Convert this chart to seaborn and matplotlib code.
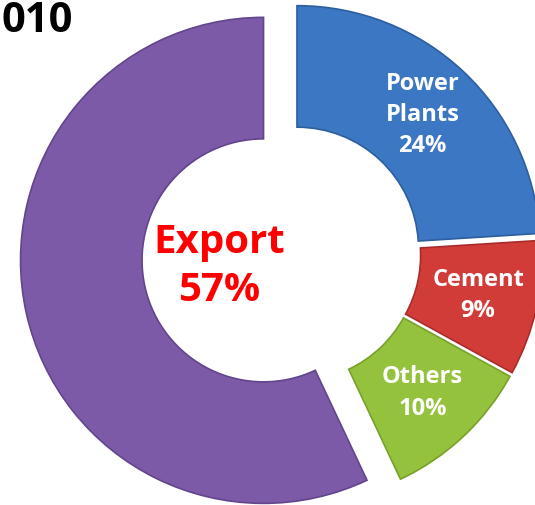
import matplotlib
matplotlib.use("Agg")
import matplotlib.pyplot as plt
import numpy as np
import seaborn as sns

# data
categories = ["Power\nPlants", "Cement", "Others", "Export"]
shares = [24, 9, 10, 57]
colors = ["#3b77c2", "#d23c38", "#95c23d", "#7d5aa8"]
edge_colors = ["#2d5e9e", "#a82c2a", "#78a02a", "#62458a"]
explode = [0.03, 0.03, 0.03, 0.12]
title_text = "010"


def draw_donut():
    sns.set_theme(style="white")
    plt.rcParams["font.family"] = ["Open Sans", "DejaVu Sans"]

    fig = plt.figure(figsize=(5.35, 5.05), dpi=100)
    ax = fig.add_axes([0, 0, 1, 1])

    wedges, _ = ax.pie(shares, colors=colors, explode=explode,
                       startangle=90, counterclock=False, radius=1.0,
                       wedgeprops=dict(width=0.5, linewidth=1.2))
    for w, ec in zip(wedges, edge_colors):
        w.set_edgecolor(ec)

    # white labels in the small slices, along each bisector
    for w, name, val, ex in zip(wedges[:3], categories[:3], shares[:3], explode[:3]):
        ang = np.deg2rad((w.theta1 + w.theta2) / 2)
        r = 0.755 + ex
        ax.text(r * np.cos(ang), r * np.sin(ang), f"{name}\n{val}%",
                ha="center", va="center", color="white", fontsize=17,
                fontweight="bold", linespacing=1.4)

    # Export label sits in the hole
    ax.text(-0.30, -0.05, f"{categories[3]}\n{shares[3]}%", ha="center",
            va="center", color="#ff0000", fontsize=29, fontweight="bold",
            linespacing=1.3)

    ax.set_xlim(-292 / 243, (535 - 292) / 243)
    ax.set_ylim(-251 / 243, (505 - 251) / 243)
    ax.set_aspect("equal")
    ax.axis("off")

    fig.text(0.002, 0.937, title_text, ha="left", va="baseline",
             fontsize=30, fontweight="bold", color="black")

    fig.savefig("out.png", dpi=100, facecolor="white")
    plt.close(fig)


def main():
    draw_donut()


if __name__ == "__main__":
    main()
